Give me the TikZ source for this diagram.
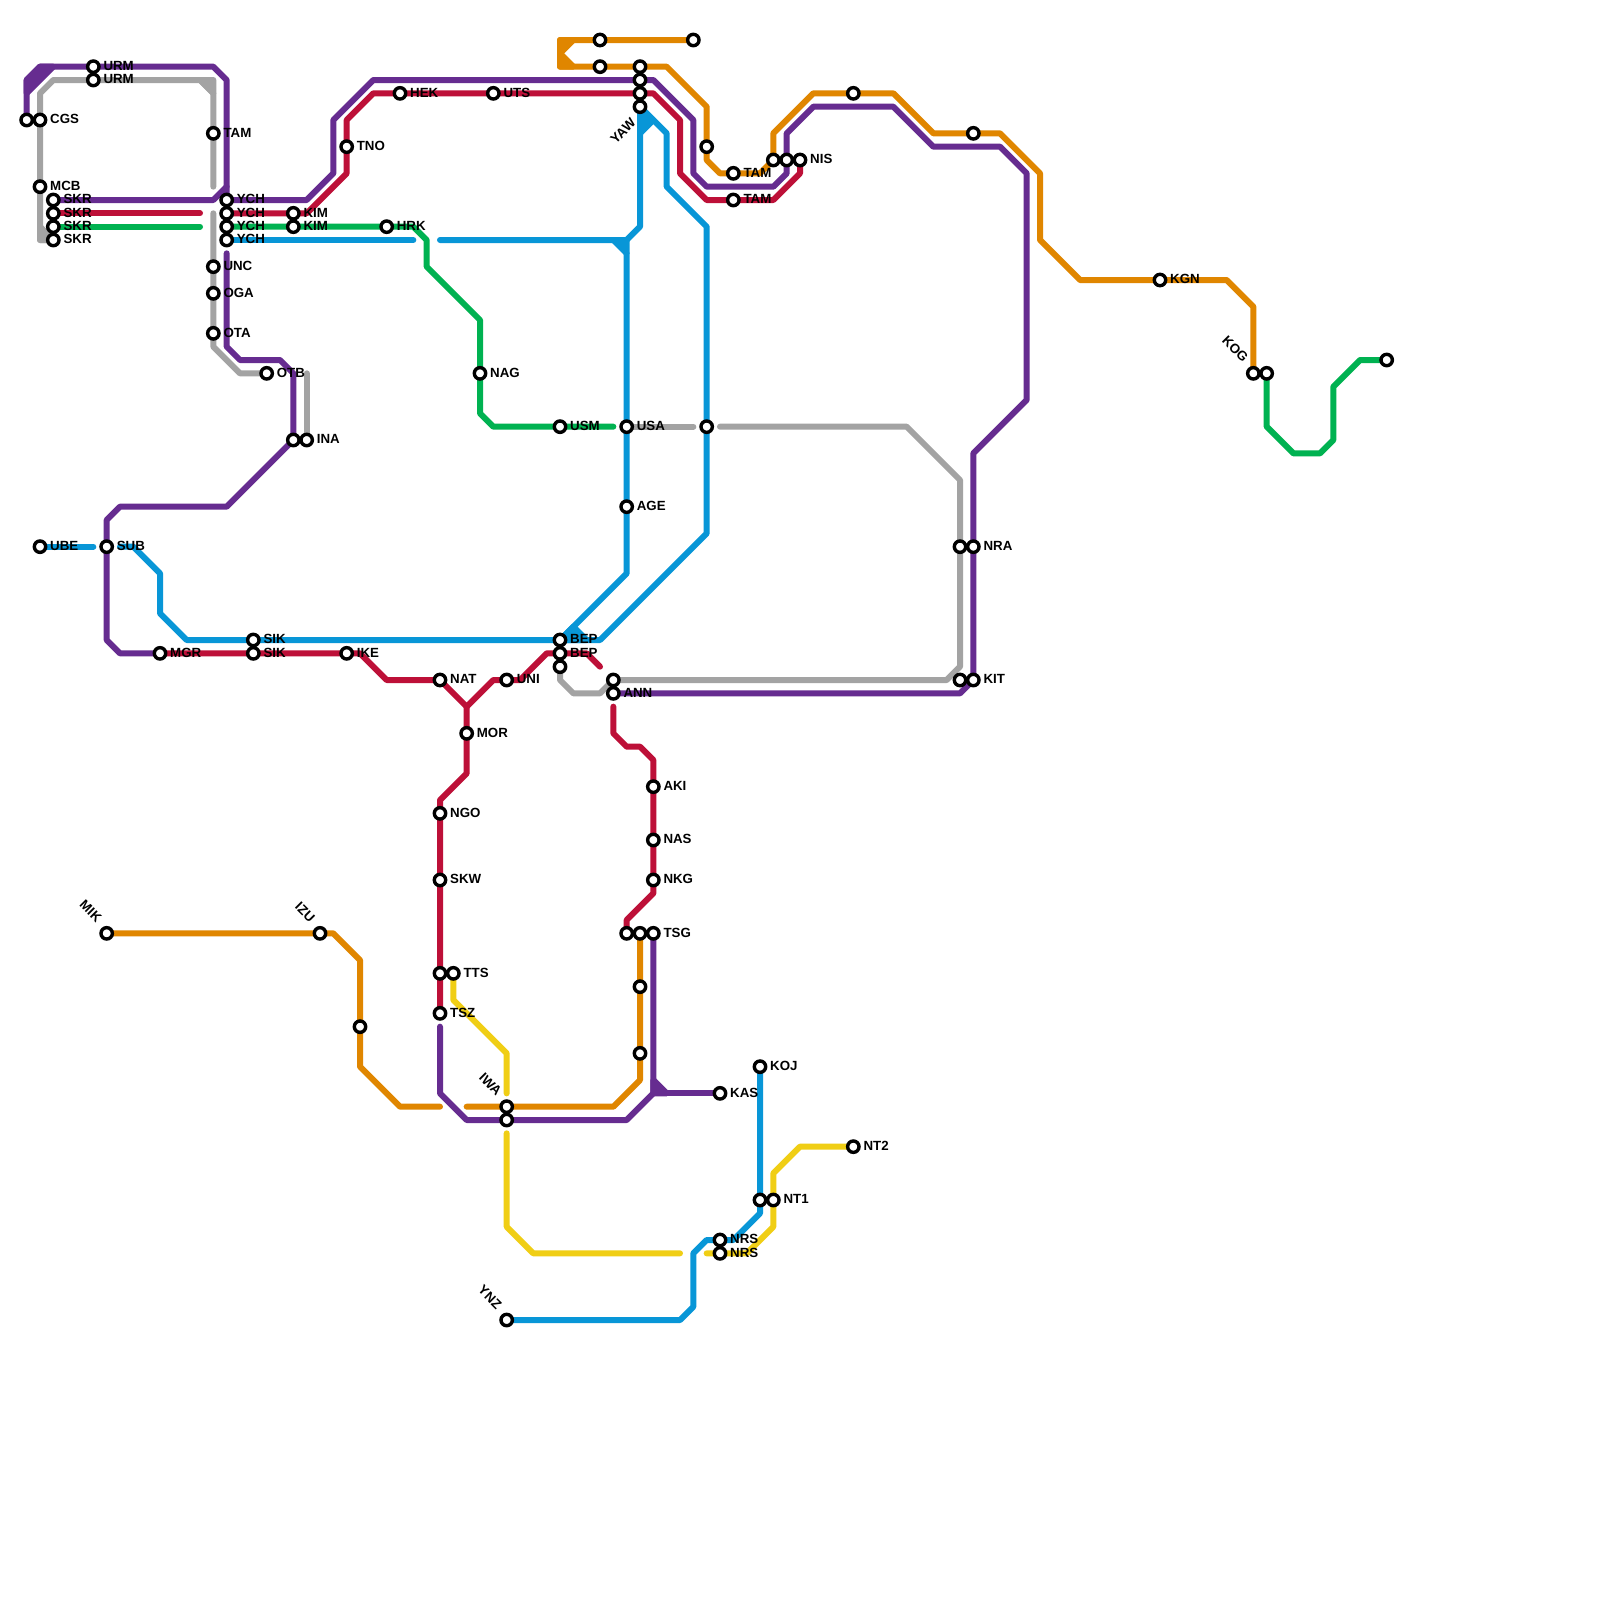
\documentclass[tikz,border=0pt]{standalone}
\usepackage{fontspec}
\setmainfont{Liberation Sans}
\usetikzlibrary{backgrounds}
\definecolor{lgray}{HTML}{A3A3A3}
\definecolor{lorange}{HTML}{E08600}
\definecolor{lyellow}{HTML}{F0CE15}
\definecolor{lblue}{HTML}{0896D7}
\definecolor{lgreen}{HTML}{00B251}
\definecolor{lred}{HTML}{BD1038}
\definecolor{lpurple}{HTML}{662C90}
\tikzset{
  metro/.style={line width=6pt,line cap=round,line join=round},
  mgray/.style={metro,draw=lgray},
  morange/.style={metro,draw=lorange},
  myellow/.style={metro,draw=lyellow},
  mblue/.style={metro,draw=lblue},
  mgreen/.style={metro,draw=lgreen},
  mred/.style={metro,draw=lred},
  mpurple/.style={metro,draw=lpurple},
  stn/.style={circle,draw=black,fill=white,line width=3.4pt,minimum size=11.4pt,inner sep=0pt},
  lab/.style={font=\fontsize{13.3}{14}\selectfont\bfseries,inner sep=0pt,text height=9.5pt,text depth=0pt,text=black},
}
% station with a label at its right
\newcommand{\stR}[4]{\node[stn] (#1) at (#2,#3) {};\node[lab,anchor=west,xshift=10pt,yshift=1pt] (lab#1) at (#2,#3) {#4};}
% station without a label
\newcommand{\stN}[3]{\node[stn] (#1) at (#2,#3) {};}
% station with a label falling away to the upper left
\newcommand{\stU}[4]{\node[stn] (#1) at (#2,#3) {};\node[lab,anchor=east,rotate=-45,xshift=-14.5pt,yshift=4.5pt] (lab#1) at (#2,#3) {#4};}
\begin{document}
\begin{tikzpicture}[x=13.3333pt,y=-13.3333pt]
\useasboundingbox (0,0) rectangle (120,120);
% stations
\stN{topA}{2}{9}\stR{cgs}{3}{9}{CGS}\stR{mcb}{3}{14}{MCB}
\stR{skrA}{4}{15}{SKR}\stR{skrB}{4}{16}{SKR}\stR{skrC}{4}{17}{SKR}\stR{skrD}{4}{18}{SKR}
\stR{urmA}{7}{5}{URM}\stR{urmB}{7}{6}{URM}
\stR{tamA}{16}{10}{TAM}
\stR{ychA}{17}{15}{YCH}\stR{ychB}{17}{16}{YCH}\stR{ychC}{17}{17}{YCH}\stR{ychD}{17}{18}{YCH}
\stR{kimA}{22}{16}{KIM}\stR{kimB}{22}{17}{KIM}
\stR{hrk}{29}{17}{HRK}\stR{tno}{26}{11}{TNO}\stR{hek}{30}{7}{HEK}\stR{uts}{37}{7}{UTS}
\stR{unc}{16}{20}{UNC}\stR{oga}{16}{22}{OGA}\stR{ota}{16}{25}{OTA}\stR{otb}{20}{28}{OTB}
\stN{inaA}{22}{33}\stR{inaB}{23}{33}{INA}
\stR{ube}{3}{41}{UBE}\stR{sub}{8}{41}{SUB}\stR{mgr}{12}{49}{MGR}
\stR{sikA}{19}{48}{SIK}\stR{sikB}{19}{49}{SIK}\stR{ike}{26}{49}{IKE}
\stR{nat}{33}{51}{NAT}\stR{uni}{38}{51}{UNI}\stR{mor}{35}{55}{MOR}
\stR{ngo}{33}{61}{NGO}\stR{skw}{33}{66}{SKW}\stN{ttsA}{33}{73}\stR{ttsB}{34}{73}{TTS}\stR{tsz}{33}{76}{TSZ}
\stR{bepA}{42}{48}{BEP}\stR{bepB}{42}{49}{BEP}\stN{bepC}{42}{50}
\stN{annA}{46}{51}\stR{annB}{46}{52}{ANN}
\stR{aki}{49}{59}{AKI}\stR{nas}{49}{63}{NAS}\stR{nkg}{49}{66}{NKG}
\stN{tsgA}{47}{70}\stN{tsgB}{48}{70}\stR{tsgC}{49}{70}{TSG}
\stN{oA}{48}{74}\stN{oB}{48}{79}
\stU{mik}{8}{70}{MIK}\stU{izu}{24}{70}{IZU}\stN{oC}{27}{77}
\stU{iwaA}{38}{83}{IWA}\stN{iwaB}{38}{84}
\stR{kas}{54}{82}{KAS}\stR{koj}{57}{80}{KOJ}\stN{ntA}{57}{90}\stR{ntB}{58}{90}{NT1}\stR{ntC}{64}{86}{NT2}
\stR{nrsA}{54}{93}{NRS}\stR{nrsB}{54}{94}{NRS}\stU{ynz}{38}{99}{YNZ}
\stR{nag}{36}{28}{NAG}\stR{usm}{42}{32}{USM}\stR{usa}{47}{32}{USA}\stN{bA}{53}{32}\stR{age}{47}{38}{AGE}
\stN{nraA}{72}{41}\stR{nraB}{73}{41}{NRA}\stN{kitA}{72}{51}\stR{kitB}{73}{51}{KIT}
\stN{yawA}{48}{5}\stN{yawB}{48}{6}\stN{yawC}{48}{7}\stN{yawD}{48}{8}
\node[lab,anchor=east,rotate=45,xshift=-14.5pt,yshift=-5pt] (labyawD) at (48,8) {YAW};
\stN{tA}{45}{3}\stN{tB}{45}{5}\stN{tC}{52}{3}\stN{tD}{53}{11}
\stR{tamB}{55}{13}{TAM}\stR{tamC}{55}{15}{TAM}
\stN{nisA}{58}{12}\stN{nisB}{59}{12}\stR{nisC}{60}{12}{NIS}
\stN{tE}{64}{7}\stN{tF}{73}{10}\stR{kgn}{87}{21}{KGN}
\stU{kogA}{94}{28}{KOG}\stN{kogB}{95}{28}\stN{endG}{104}{27}
% free line ends
\coordinate (gEndA) at (16,14);\coordinate (gStartB) at (16,16);
\coordinate (gEndC) at (52,32);\coordinate (gStartD) at (54,32);
\coordinate (oEndA) at (33,83);\coordinate (oStartB) at (35,83);
\coordinate (yEndA) at (38,82);\coordinate (yStartB) at (38,85);\coordinate (yEndB) at (51,94);\coordinate (yStartC) at (53,94);
\coordinate (bEndA) at (31,18);\coordinate (bStartB) at (33,18);\coordinate (bEndC) at (7,41);\coordinate (bStartD) at (9,41);
\coordinate (grEndA) at (15,17);\coordinate (grEndB) at (46,32);
\coordinate (rEndA) at (15,16);\coordinate (rEndB) at (45,50);\coordinate (rStartC) at (46,53);
\coordinate (pStartB) at (17,19);\coordinate (pStartC) at (33,77);
% lines
\begin{scope}[on background layer]
\fill[white] (0,0) rectangle (120,120);
% gray
\draw[mgray] (skrD.center) -- (3,18) -- (mcb.center) -- (cgs.center) -- (3,7) -- (4,6) -- (urmB.center) -- (15,6) -- (16,7) -- (tamA.center) -- (gEndA);
\draw[mgray,fill=lgray] (15,6) -- (16,6) -- (16,7) -- cycle;
\draw[mgray,fill=lgray] (3,17) -- (4,18) -- (3,18) -- cycle;
\draw[mgray] (gStartB) -- (unc.center) -- (oga.center) -- (ota.center) -- (16,26) -- (18,28) -- (otb.center);
\draw[mgray] (23,28) -- (inaB.center);
\draw[mgray] (usa.center) -- (gEndC);
\draw[mgray] (gStartD) -- (68,32) -- (72,36) -- (nraA.center) -- (72,50) -- (71,51) -- (annA.center);
\draw[mgray] (bepC.center) -- (42,51) -- (43,52) -- (45,52) -- (annA.center);
% orange
\draw[morange] (tC.center) -- (tA.center) -- (42,3) -- (42,5) -- (tB.center) -- (yawA.center) -- (50,5) -- (53,8) -- (tD.center) -- (53,12) -- (54,13) -- (tamB.center) -- (57,13) -- (nisA.center) -- (58,10) -- (61,7) -- (tE.center) -- (67,7) -- (70,10) -- (tF.center) -- (75,10) -- (78,13) -- (78,18) -- (81,21) -- (kgn.center) -- (92,21) -- (94,23) -- (kogA.center);
\draw[morange,fill=lorange] (42,3) -- (43,3) -- (42,4) -- cycle;
\draw[morange,fill=lorange] (42,5) -- (43,5) -- (42,4) -- cycle;
\draw[morange] (mik.center) -- (izu.center) -- (25,70) -- (27,72) -- (oC.center) -- (27,80) -- (30,83) -- (oEndA);
\draw[morange] (oStartB) -- (iwaA.center) -- (46,83) -- (48,81) -- (oB.center) -- (oA.center) -- (tsgB.center);
% yellow
\draw[myellow] (ttsB.center) -- (34,75) -- (38,79) -- (yEndA);
\draw[myellow] (yStartB) -- (38,92) -- (40,94) -- (yEndB);
\draw[myellow] (yStartC) -- (nrsB.center) -- (56,94) -- (58,92) -- (ntB.center) -- (58,88) -- (60,86) -- (ntC.center);
% blue
\draw[mblue] (ychD.center) -- (bEndA);
\draw[mblue] (bStartB) -- (47,18) -- (48,17) -- (yawD.center) -- (50,10) -- (50,14) -- (53,17) -- (bA.center) -- (53,40) -- (45,48) -- (bepA.center) -- (sikA.center) -- (14,48) -- (12,46) -- (12,43) -- (10,41) -- (bStartD);
\draw[mblue,fill=lblue] (48,8.5) -- (49,9) -- (48,10) -- cycle;
\draw[mblue,fill=lblue] (46,18) -- (47,18) -- (47,19) -- cycle;
\draw[mblue] (47,19) -- (usa.center) -- (age.center) -- (47,43) -- (bepA.center);
\draw[mblue,fill=lblue] (42,48) -- (43,47) -- (44,48) -- cycle;
\draw[mblue] (ube.center) -- (bEndC);
\draw[mblue] (ynz.center) -- (51,99) -- (52,98) -- (52,94) -- (53,93) -- (nrsA.center) -- (55,93) -- (57,91) -- (ntA.center) -- (koj.center);
% green
\draw[mgreen] (skrC.center) -- (grEndA);
\draw[mgreen] (ychC.center) -- (kimB.center) -- (hrk.center) -- (31,17) -- (32,18) -- (32,20) -- (36,24) -- (nag.center) -- (36,31) -- (37,32) -- (usm.center) -- (grEndB);
\draw[mgreen] (kogB.center) -- (95,32) -- (97,34) -- (99,34) -- (100,33) -- (100,29) -- (102,27) -- (endG.center);
% red
\draw[mred] (skrB.center) -- (rEndA);
\draw[mred] (ychB.center) -- (kimA.center) -- (23,16) -- (26,13) -- (tno.center) -- (26,9) -- (28,7) -- (hek.center) -- (uts.center) -- (yawC.center) -- (49,7) -- (51,9) -- (51,13) -- (53,15) -- (tamC.center) -- (58,15) -- (60,13) -- (nisC.center);
\draw[mred] (mgr.center) -- (sikB.center) -- (ike.center) -- (27,49) -- (29,51) -- (nat.center) -- (35,53) -- (37,51) -- (uni.center) -- (39,51) -- (41,49) -- (bepB.center) -- (44,49) -- (rEndB);
\draw[mred] (35,53) -- (mor.center) -- (35,58) -- (33,60) -- (ngo.center) -- (skw.center) -- (ttsA.center) -- (tsz.center);
\draw[mred] (rStartC) -- (46,55) -- (47,56) -- (48,56) -- (49,57) -- (aki.center) -- (nas.center) -- (nkg.center) -- (49,67) -- (47,69) -- (tsgA.center);
% purple
\draw[mpurple] (topA.center) -- (2,6) -- (3,5) -- (urmA.center) -- (16,5) -- (17,6) -- (17,14) -- (ychA.center) -- (18,15) -- (23,15) -- (25,13) -- (25,9) -- (28,6) -- (yawB.center) -- (49,6) -- (52,9) -- (52,13) -- (53,14) -- (58,14) -- (59,13) -- (nisB.center) -- (59,10) -- (61,8) -- (67,8) -- (70,11) -- (75,11) -- (77,13) -- (77,30) -- (73,34) -- (nraB.center) -- (kitB.center) -- (72,52) -- (annB.center);
\draw[mpurple,fill=lpurple] (2,6) -- (3,5) -- (4,5) -- (2,7) -- cycle;
\draw[mpurple] (skrA.center) -- (16,15) -- (17,14);
\draw[mpurple] (pStartB) -- (17,26) -- (18,27) -- (21,27) -- (22,28) -- (inaA.center) -- (17,38) -- (9,38) -- (8,39) -- (sub.center) -- (8,48) -- (9,49) -- (mgr.center);
\draw[mpurple] (pStartC) -- (33,82) -- (35,84) -- (iwaB.center) -- (47,84) -- (49,82) -- (tsgC.center);
\draw[mpurple,fill=lpurple] (49,81) -- (50,82) -- (49,82) -- cycle;
\draw[mpurple] (49,82) -- (kas.center);
\end{scope}
\end{tikzpicture}
\end{document}
